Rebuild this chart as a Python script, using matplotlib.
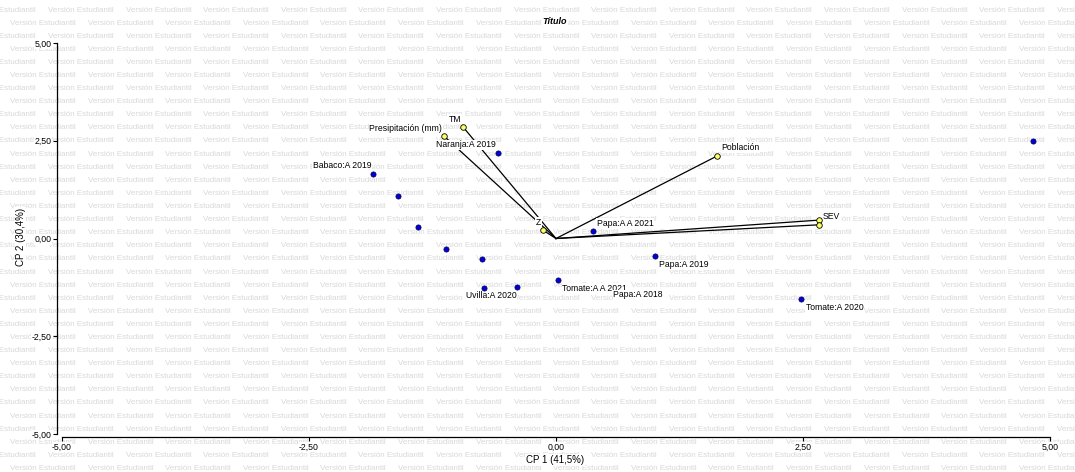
import matplotlib
matplotlib.use("Agg")
import matplotlib.pyplot as plt

plt.rcParams['font.family'] = ['Liberation Sans', 'DejaVu Sans']

# observations (CP1, CP2)
obs_x = [4.83, -0.59, -1.85, -1.60, -1.40, -1.11, -0.75, -0.73, -0.39, 0.02, 0.37, 1.00, 2.48]
obs_y = [2.49, 2.19, 1.65, 1.08, 0.29, -0.28, -0.53, -1.26, -1.23, -1.05, 0.19, -0.45, -1.55]
obs_labels = ["", "Naranja:A 2019", "Babaco:A 2019", "", "", "", "",
              "Uvilla:A 2020", "", "Tomate:A A 2021", "Papa:A A 2021",
              "Papa:A 2019", "Tomate:A 2020"]

# label with no visible point
extra_label = "Papa:A 2018"
extra_x, extra_y = 0.58, -1.445

# variables (vectors from origin)
var_names = ["TM", "Presipitación (mm)", "Z", "Población", "", "SEV"]
var_x = [-0.94, -1.13, -0.13, 1.63, 2.66, 2.66]
var_y = [2.85, 2.61, 0.21, 2.11, 0.47, 0.35]

ticks = [-5, -2.5, 0, 2.5, 5]
tick_labels = ["-5,00", "-2,50", "0,00", "2,50", "5,00"]

W, H = 1075, 472
fig = plt.figure(figsize=(W / 100, H / 100), dpi=100)
fig.patch.set_facecolor("white")
white = dict(facecolor="white", edgecolor="none", pad=0.4)

# watermark
for i in range(37):
    y = 10 + 13.1 * i
    x0 = 48 if i % 2 == 0 else 10
    x = x0 - 77.6
    while x < W:
        fig.text(x / W, 1 - y / H, "Versión Estudiantil", fontsize=5.8,
                 color="#d8d8d8", ha="left", va="center", zorder=-1)
        x += 77.6

ax = fig.add_axes([62 / W, 1 - 434 / H, (1050 - 62) / W, (434 - 43) / H])
ax.set_facecolor("none")
ax.set_xlim(-5, 5)
ax.set_ylim(-5, 5)

for s in ["top", "right"]:
    ax.spines[s].set_visible(False)
ax.spines["left"].set_position(("outward", 3.6))
ax.spines["bottom"].set_position(("outward", 2.2))
for s in ["left", "bottom"]:
    ax.spines[s].set_linewidth(0.9)
ax.spines["left"].set_bounds(-5, 5)
ax.spines["bottom"].set_bounds(-5, 5)

ax.set_xticks(ticks)
ax.set_xticklabels(tick_labels)
ax.set_yticks(ticks)
ax.set_yticklabels(tick_labels)
ax.tick_params(length=2.8, width=0.8, labelsize=6.3, pad=1)
for t in ax.get_xticklabels() + ax.get_yticklabels():
    t.set_bbox(white)

lbl = dict(fontsize=6.2, textcoords="offset pixels", va="center", zorder=3,
           bbox=white)
offsets = {"ul": ((-2, 8), "right"), "ur": ((4, 8), "left"),
           "lr": ((4.5, -8.5), "left"), "lc": ((7, -8), "center")}

# vectors
for vx, vy in zip(var_x, var_y):
    ax.plot([0, vx], [0, vy], color="black", lw=0.9, zorder=2)
ax.scatter(var_x, var_y, s=16, facecolor="#ffff66", edgecolor="black",
           linewidth=0.6, zorder=4)
var_place = ["ul", "ul", "ul", "ur", "ur", "ur"]
for name, vx, vy, p in zip(var_names, var_x, var_y, var_place):
    if name:
        off, ha = offsets[p]
        ax.annotate(name, (vx, vy), xytext=off, ha=ha, **lbl)

# observations
ax.scatter(obs_x, obs_y, s=14, facecolor="#0000dd", edgecolor="#000044",
           linewidth=0.5, zorder=4)
obs_place = ["", "ul", "ul", "", "", "", "", "lc", "", "lr", "ur", "lr", "lr"]
for name, ox, oy, p in zip(obs_labels, obs_x, obs_y, obs_place):
    if name:
        off, ha = offsets[p]
        ax.annotate(name, (ox, oy), xytext=off, ha=ha, **lbl)
ax.annotate(extra_label, (extra_x, extra_y), xytext=(0, 0), ha="left", **lbl)

fig.text(555 / W, 1 - 22 / H, "Título", fontsize=6.5, fontweight="bold",
         fontstyle="italic", ha="center", va="center", bbox=white)
fig.text(555 / W, 1 - 460 / H, "CP 1 (41,5%)", fontsize=7, ha="center",
         va="center", bbox=white)
fig.text(20.5 / W, 1 - 237 / H, "CP 2 (30,4%)", fontsize=7, rotation=90,
         ha="center", va="center", bbox=white)

fig.savefig("out.png", dpi=100)
